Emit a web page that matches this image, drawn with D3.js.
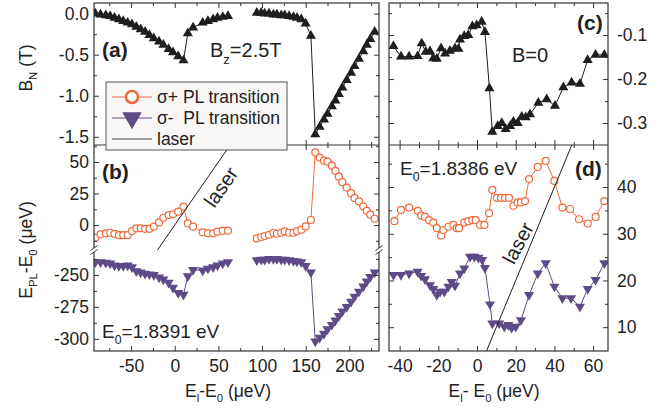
<!DOCTYPE html>
<html><head><meta charset="utf-8">
<script src="https://cdn.jsdelivr.net/npm/d3@7"></script>
<style>body{margin:0;background:#fff}svg{display:block;font-family:"Liberation Sans",Arial,Helvetica,sans-serif}text{white-space:pre}</style>
</head><body><svg id="c" width="670" height="411"></svg>
<script>
// ---------------- DATA ----------------
// Left panels (a),(b): B_z = 2.5 T, laser detuning El-E0 (µeV)
const leftX1 = [-91,-85,-79,-74,-69,-64,-59,-54,-49,-44,-39,-34,-29,-24,-18,-13,-7,-2,4,10,15,21,32,38,44,49,55,61];
const leftX2 = [94,99,103,108,113,117,122,126,131,136,140,145,150,156,161,166,171,175,180,184,188,192,197,202,206,211,216,220,224,229];
// (a) Overhauser field B_N (T)
const aBN1 = [0.0,-0.01,-0.02,-0.03,-0.05,-0.07,-0.09,-0.11,-0.13,-0.16,-0.19,-0.22,-0.26,-0.30,-0.34,-0.38,-0.43,-0.47,-0.52,-0.57,-0.24,-0.17,-0.11,-0.09,-0.07,-0.05,-0.04,-0.03];
const aBN2 = [0.01,0.01,0.0,0.0,-0.01,-0.01,-0.02,-0.02,-0.03,-0.04,-0.05,-0.07,-0.12,-0.27,-1.47,-1.38,-1.29,-1.22,-1.13,-1.06,-0.98,-0.90,-0.81,-0.72,-0.64,-0.55,-0.46,-0.38,-0.31,-0.22];
// (b) sigma+ and sigma- PL energies E_PL-E0 (µeV)
const bPlus1 = [-10,-7.4,-6.6,-6.1,-7,-8,-8,-8,-4.8,-2.6,-2.6,-3,-3,-1.2,2.1,5.8,7.9,8.5,10.6,14.6,1.3,-1.3,-5.8,-6.6,-6.6,-5.3,-4.5,-4.5];
const bPlus2 = [-10.6,-9.5,-8.7,-7.7,-6.1,-6.9,-6.1,-5,-6.1,-6.1,-5,-3.7,-1.1,4,57.7,53.5,51.1,50.3,47.1,42.9,38.4,34,29.7,25.3,21.4,18.7,14.7,11.3,8.2,5];
const bMinus1 = [-240,-240,-240.5,-241,-242.5,-243,-243,-242.5,-244,-247,-248,-249,-249.5,-250,-252,-253.5,-256,-260,-264,-265.5,-251,-246,-246.5,-245,-244,-242.5,-241,-240];
const bMinus2 = [-238.5,-238,-238,-237.5,-237.5,-237.5,-238,-238,-238.5,-239,-239.5,-240,-243,-248,-302,-299,-296,-292.5,-289,-285.5,-282,-278.5,-275,-271,-267,-263,-259,-255,-251.5,-248];
// Right panels (c),(d): B = 0
const cX = [-43.2,-39.3,-35.1,-30.7,-28.6,-26.5,-24.3,-22.6,-20.8,-18.6,-16.5,-14,-11.4,-9.6,-8.8,-6.6,-4.5,-2.4,-0.2,2.4,4.1,6.4,7.9,10.7,12.8,14.8,17.1,18.8,21,23.1,25.2,27.4,31.7,36,40.3,44.6,48.9,53.2,57.2,61.3,65.8];
const cBN = [-0.125,-0.149,-0.149,-0.148,-0.119,-0.138,-0.137,-0.153,-0.154,-0.130,-0.142,-0.136,-0.130,-0.131,-0.110,-0.102,-0.100,-0.080,-0.078,-0.070,-0.093,-0.221,-0.320,-0.307,-0.300,-0.314,-0.307,-0.297,-0.300,-0.286,-0.287,-0.280,-0.254,-0.246,-0.261,-0.219,-0.208,-0.211,-0.157,-0.145,-0.145];
const dPlusX = [-42.7,-39.3,-35.1,-30.6,-28.9,-26.9,-24.8,-22.6,-20.8,-18.6,-17.4,-14.8,-12.2,-10.5,-9.3,-6.6,-4.5,-2.4,-0.7,1.6,3.8,6.2,7.9,10.2,12.4,14.5,16.5,18.8,21,22.7,24.8,26.9,31.4,35.5,40,44.1,48.1,52.7,57.2,61.3,65.8];
const dPlusY = [32.7,35.1,35.6,34.9,33.9,33.6,32.9,32.4,31.2,29.6,30.8,31.5,31.9,31.2,31.2,32.4,32.7,32.9,32.9,31.9,31.9,34.4,39.4,37.7,37.7,37.7,37.7,36,36.7,36.7,37,41.7,44.3,45.6,41.3,35.6,35.3,33.1,32.2,33.6,37];
const dMinusX = [-43.2,-39.3,-35.1,-30.7,-28.9,-26.9,-24.3,-22.6,-20.8,-19.1,-16.9,-14.8,-13.1,-11.4,-8.8,-6.6,-3.6,-1.4,0.7,2.7,4.1,6.7,7.9,11.4,14.1,16.2,17.9,20,22.7,26.9,31.4,35.5,40,44.1,48.6,53.2,57.2,61.3,65.8];
const dMinusY = [21.2,21.2,21.5,21.9,21,20.3,19,18.2,16.9,17.6,17.6,18.7,19.7,18.9,21.5,22.6,25.1,25.1,24.9,24.4,22.7,14.9,10.8,10.8,10.1,10.5,9.9,10.1,11.5,16.9,21.5,23.7,18.7,16.2,16.2,14.4,18.2,20.1,23.7];
// Ticks
const leftXTicks = [-50,0,50,100,150,200];
const leftXMinor = [-75,-25,25,75,125,175,225];
const rightXTicks = [-40,-20,0,20,40,60];
const rightXMinor = [-30,-10,10,30,50];
const aTicks = [0,-0.5,-1,-1.5];
const aMinor = [-0.25,-0.75,-1.25];
const bTicks = [50,25,0,-250,-275,-300];
const bMinor = [62.5,37.5,12.5,-12.5,-237.5,-262.5,-287.5];
const cTicks = [-0.1,-0.2,-0.3];
const cMinor = [-0.05,-0.15,-0.25];
const dTicks = [10,20,30,40];
const dMinor = [15,25,35,45];
const legendLabels = ["\u03c3+ PL transition","\u03c3-  PL transition","laser"];

// ---------------- LAYOUT ----------------
const L0 = 94, L1 = 379, R0 = 389, R1 = 608, TOP = 3, MID = 145, BOT = 351;
const ORANGE = "#f0693a", PURPLE = "#5f4a88", BLACK = "#1e1e1e", FRAME = "#333";
const FS = 17.5;

const xL = d3.scaleLinear().domain([-92.5, 234]).range([L0, L1]);
const xR = d3.scaleLinear().domain([-45.5, 67.7]).range([R0, R1]);
const yA = d3.scaleLinear().domain([-1.6, 0.13]).range([MID, TOP]);
const yB = d3.scaleLinear().domain([-309.5, -230.5, -19.8, 63.5]).range([BOT, 250, 250, MID]);
const yC = d3.scaleLinear().domain([-0.35, -0.027]).range([MID, TOP]);
const yD = d3.scaleLinear().domain([4.9, 49]).range([BOT, MID]);

const svg = d3.select("#c");
const defs = svg.append("defs");
function clip(id, x, y, w, h) {
  defs.append("clipPath").attr("id", id).append("rect").attr("x", x).attr("y", y).attr("width", w).attr("height", h);
  return svg.append("g").attr("clip-path", `url(#${id})`);
}
const gA = clip("ca", L0, TOP, L1 - L0, MID - TOP);
const gB = clip("cb", L0, MID, L1 - L0, BOT - MID);
const gC = clip("cc", R0, TOP, R1 - R0, MID - TOP);
const gD = clip("cd", R0, MID, R1 - R0, BOT - MID);

const triUp = d3.symbol().type(d3.symbolTriangle).size(44);
function series(g, xs, ys, xs_, ys_, kind) {
  const pts = xs.map((x, i) => [xs_(x), ys_(ys[i])]);
  const col = kind === "plus" ? ORANGE : kind === "minus" ? PURPLE : BLACK;
  g.append("path").attr("d", d3.line()(pts)).attr("fill", "none").attr("stroke", col).attr("stroke-width", 1);
  if (kind === "plus") {
    g.selectAll(null).data(pts).enter().append("circle")
      .attr("cx", d => d[0]).attr("cy", d => d[1]).attr("r", 3.5)
      .attr("fill", "#fff").attr("stroke", col).attr("stroke-width", 1.2);
  } else {
    g.selectAll(null).data(pts).enter().append("path")
      .attr("d", triUp)
      .attr("transform", d => `translate(${d[0]},${d[1]})` + (kind === "minus" ? " rotate(180)" : ""))
      .attr("fill", col);
  }
}
series(gA, leftX1, aBN1, xL, yA, "bn");
series(gA, leftX2, aBN2, xL, yA, "bn");
series(gB, leftX1, bPlus1, xL, yB, "plus");
series(gB, leftX2, bPlus2, xL, yB, "plus");
series(gB, leftX1, bMinus1, xL, yB, "minus");
series(gB, leftX2, bMinus2, xL, yB, "minus");
series(gC, cX, cBN, xR, yC, "bn");
series(gD, dPlusX, dPlusY, xR, yD, "plus");
series(gD, dMinusX, dMinusY, xR, yD, "minus");

// laser lines (E_PL = E_l)
const lb = [yB.domain()[2], yB.domain()[3]];
gB.append("line").attr("x1", xL(lb[0])).attr("y1", yB(lb[0])).attr("x2", xL(lb[1])).attr("y2", yB(lb[1]))
  .attr("stroke", BLACK).attr("stroke-width", 1);
const ld = yD.domain();
gD.append("line").attr("x1", xR(ld[0])).attr("y1", yD(ld[0])).attr("x2", xR(ld[1])).attr("y2", yD(ld[1]))
  .attr("stroke", BLACK).attr("stroke-width", 1);
svg.append("text").attr("transform", "translate(221,187) rotate(-55)").attr("text-anchor", "middle")
  .attr("dominant-baseline", "central").attr("font-size", 20).attr("fill", "#222").text("laser");
svg.append("text").attr("transform", "translate(518,243) rotate(-62)").attr("text-anchor", "middle")
  .attr("dominant-baseline", "central").attr("font-size", 20).attr("fill", "#222").text("laser");

// frames
[[L0, L1], [R0, R1]].forEach(([a, b]) => {
  svg.append("rect").attr("x", a).attr("y", TOP).attr("width", b - a).attr("height", BOT - TOP)
    .attr("fill", "none").attr("stroke", FRAME).attr("stroke-width", 1.2);
  svg.append("line").attr("x1", a).attr("x2", b).attr("y1", MID).attr("y2", MID).attr("stroke", FRAME).attr("stroke-width", 1.2);
});

// axes
function axis(gen, scale, vals, pos, len, fmt, pad, isX) {
  const ax = gen(scale).tickValues(vals).tickSize(-len).tickPadding(pad || 3).tickFormat(fmt || (() => ""));
  const g = svg.append("g").attr("transform", isX ? `translate(0,${pos})` : `translate(${pos},0)`).call(ax);
  g.select(".domain").remove();
  g.selectAll("line").attr("stroke", FRAME).attr("stroke-width", 1);
  g.selectAll("text").attr("font-size", FS).attr("font-family", "Liberation Sans, Arial, sans-serif").attr("fill", "#222");
  return g;
}
const f1 = d => d.toFixed(1), f0 = d => String(d);
// left x
axis(d3.axisBottom, xL, leftXTicks, BOT, 5, f0, 9, true);
axis(d3.axisBottom, xL, leftXMinor, BOT, 3, null, 3, true);
axis(d3.axisTop, xL, leftXTicks, TOP, 5, null, 3, true);
axis(d3.axisTop, xL, leftXMinor, TOP, 3, null, 3, true);
axis(d3.axisTop, xL, leftXTicks, MID, 5, null, 3, true);
axis(d3.axisTop, xL, leftXMinor, MID, 3, null, 3, true);
axis(d3.axisBottom, xL, leftXTicks, MID, 5, null, 3, true);
axis(d3.axisBottom, xL, leftXMinor, MID, 3, null, 3, true);
// right x
axis(d3.axisBottom, xR, rightXTicks, BOT, 5, f0, 9, true);
axis(d3.axisBottom, xR, rightXMinor, BOT, 3, null, 3, true);
axis(d3.axisTop, xR, rightXTicks, TOP, 5, null, 3, true);
axis(d3.axisTop, xR, rightXMinor, TOP, 3, null, 3, true);
axis(d3.axisTop, xR, rightXTicks, MID, 5, null, 3, true);
axis(d3.axisTop, xR, rightXMinor, MID, 3, null, 3, true);
axis(d3.axisBottom, xR, rightXTicks, MID, 5, null, 3, true);
axis(d3.axisBottom, xR, rightXMinor, MID, 3, null, 3, true);
// left y (a,b)
axis(d3.axisLeft, yA, aTicks, L0, 5, f1, 5, false);
axis(d3.axisLeft, yA, aMinor, L0, 3, null, 3, false);
axis(d3.axisRight, yA, aTicks, L1, 5, null, 3, false);
axis(d3.axisRight, yA, aMinor, L1, 3, null, 3, false);
axis(d3.axisLeft, yB, bTicks, L0, 5, f0, 5, false);
axis(d3.axisLeft, yB, bMinor, L0, 3, null, 3, false);
axis(d3.axisRight, yB, bTicks, L1, 5, null, 3, false);
axis(d3.axisRight, yB, bMinor, L1, 3, null, 3, false);
// right y (c,d)
axis(d3.axisRight, yC, cTicks, R1, 5, f1, 9, false);
axis(d3.axisRight, yC, cMinor, R1, 3, null, 3, false);
axis(d3.axisLeft, yC, cTicks, R0, 5, null, 3, false);
axis(d3.axisLeft, yC, cMinor, R0, 3, null, 3, false);
axis(d3.axisRight, yD, dTicks, R1, 5, f0, 9, false);
axis(d3.axisRight, yD, dMinor, R1, 3, null, 3, false);
axis(d3.axisLeft, yD, dTicks, R0, 5, null, 3, false);
axis(d3.axisLeft, yD, dMinor, R0, 3, null, 3, false);

// axis break marks
[L0, L1].forEach(x => {
  const y = 250;
  svg.append("rect").attr("x", x - 2).attr("y", y - 2).attr("width", 4).attr("height", 4).attr("fill", "#fff");
  [-2, 2].forEach(o => svg.append("line").attr("x1", x - 3.5).attr("y1", y + o + 2.5).attr("x2", x + 3.5).attr("y2", y + o - 2.5)
    .attr("stroke", FRAME).attr("stroke-width", 1));
});

// legend
const lg = svg.append("g");
lg.append("rect").attr("x", 106).attr("y", 82).attr("width", 181).attr("height", 68)
  .attr("fill", "#f8f7f5").attr("stroke", "#555").attr("stroke-width", 1);
const ly = [97, 118, 139];
const lcols = [ORANGE, PURPLE, "#444"];
ly.forEach((y, i) => {
  lg.append("line").attr("x1", 112).attr("x2", 152).attr("y1", y).attr("y2", y).attr("stroke", lcols[i]).attr("stroke-width", 1);
  lg.append("text").attr("x", 157).attr("y", y + 6).attr("font-size", FS).attr("fill", "#222").text(legendLabels[i]);
});
lg.append("circle").attr("cx", 132).attr("cy", ly[0]).attr("r", 6).attr("fill", "#fff").attr("stroke", ORANGE).attr("stroke-width", 2.5);
lg.append("path").attr("d", d3.symbol().type(d3.symbolTriangle).size(165)).attr("transform", `translate(132,${ly[1]}) rotate(180)`).attr("fill", PURPLE);

// text helpers
function rich(parts, size, shift) {
  const t = svg.append("text").attr("font-size", size).attr("fill", "#222");
  let down = false;
  parts.forEach(([s, sub]) => {
    const ts = t.append("tspan").text(s);
    if (sub) { ts.attr("font-size", size * 0.65); if (!down) { ts.attr("dy", shift); down = true; } }
    else if (down) { ts.attr("dy", -shift); down = false; }
  });
  return t;
}
// axis titles
rich([["B"], ["N", 1], [" (T)"]], FS, 5).attr("text-anchor", "middle").attr("transform", "translate(32,68) rotate(-90)");
rich([["E"], ["PL", 1], ["-E"], ["0", 1], [" (\u03bceV)"]], FS, 5).attr("text-anchor", "middle").attr("transform", "translate(32,250) rotate(-90)");
rich([["E"], ["l", 1], ["-E"], ["0", 1], [" (\u03bceV)"]], FS, 5).attr("text-anchor", "middle").attr("x", 228).attr("y", 397);
rich([["E"], ["l", 1], ["- E"], ["0", 1], [" (\u03bceV)"]], FS, 5).attr("text-anchor", "middle").attr("x", 494).attr("y", 397);
// annotations
rich([["B"], ["z", 1], ["=2.5T"]], 20, 7).attr("x", 210).attr("y", 57);
rich([["B=0"]], 20, 0).attr("x", 512).attr("y", 62);
rich([["E"], ["0", 1], ["=1.8386 eV"]], 19, 6).attr("x", 400).attr("y", 175);
rich([["E"], ["0", 1], ["=1.8391 eV"]], 19, 6).attr("x", 102).attr("y", 338);
[["(a)", 102, 57], ["(b)", 102, 179], ["(c)", 577, 30], ["(d)", 575, 176]].forEach(([s, x, y]) =>
  svg.append("text").attr("x", x).attr("y", y).attr("font-size", 21).attr("font-weight", "bold").attr("fill", "#222").text(s));
</script></body></html>
